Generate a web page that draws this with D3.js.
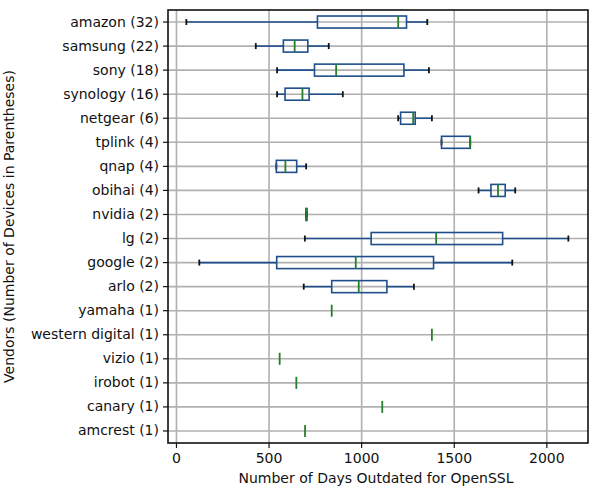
<!DOCTYPE html>
<meta charset="utf-8">
<html>
<head>
  <script src="https://d3js.org/d3.v7.min.js"></script>
  <style>
    body { margin: 0; background: #fff; }
    text { font-family: 'DejaVu Sans', sans-serif; fill: #111; }
    .axis text { font-size: 14px; }
    .axis path { stroke: #111; stroke-width: 1.6; }
    .axis line { stroke: #111; stroke-width: 1.2; }
    .grid line { stroke: #b0b0b0; stroke-width: 1.6; }
    .grid path { stroke: none; }
  </style>
</head>
<body>
  <script>
    // vendors, top to bottom
    var vendors = ['amazon', 'samsung', 'sony', 'synology', 'netgear', 'tplink', 'qnap', 'obihai', 'nvidia',
      'lg', 'google', 'arlo', 'yamaha', 'western digital', 'vizio', 'irobot', 'canary', 'amcrest'];
    var counts = [32, 22, 18, 16, 6, 4, 4, 4, 2, 2, 2, 2, 1, 1, 1, 1, 1, 1];

    // box statistics (days outdated)
    var whisLo = [56, 431, 546, 546, 1200, 1434, 542, 1634, 702, 696, 126, 690, 841, 1382, 560, 650, 1114, 697];
    var q1 = [764, 580, 748, 589, 1213, 1434, 542, 1701, 702, 1054, 544, 841, 841, 1382, 560, 650, 1114, 697];
    var med = [1200, 641, 865, 683, 1281, 1589, 591, 1739, 705, 1405, 971, 987, 841, 1382, 560, 650, 1114, 697];
    var q3 = [1245, 712, 1231, 719, 1292, 1589, 652, 1778, 707, 1764, 1391, 1139, 841, 1382, 560, 650, 1114, 697];
    var whisHi = [1357, 825, 1366, 901, 1382, 1589, 703, 1832, 707, 2119, 1816, 1285, 841, 1382, 560, 650, 1114, 697];

    var xTicks = [0, 500, 1000, 1500, 2000];

    var data = vendors.map((v, i) => ({
      label: v + ' (' + counts[i] + ')',
      lo: whisLo[i], q1: q1[i], med: med[i], q3: q3[i], hi: whisHi[i]
    }));

    var m = { top: 10, right: 12, bottom: 49, left: 168 };
    var W = 600, H = 492;
    var w = W - m.left - m.right,
      h = H - m.top - m.bottom;

    var svg = d3.select('body')
      .append('svg')
      .attr('width', W)
      .attr('height', H);

    var g = svg.append('g')
      .attr('transform', `translate(${m.left}, ${m.top})`);

    var x = d3.scaleLinear()
      .domain([-43, 2225])
      .range([0, w]);

    var y = d3.scaleBand()
      .domain(data.map(d => d.label))
      .range([0, h]);

    var bw = y.bandwidth();

    // grid
    g.append('g')
      .attr('class', 'grid')
      .attr('transform', `translate(0, ${h})`)
      .call(d3.axisBottom(x).tickValues(xTicks).tickSize(-h).tickFormat(''));

    g.append('g')
      .attr('class', 'grid')
      .call(d3.axisLeft(y).tickSize(-w).tickFormat(''));

    // boxes
    var box = g.selectAll('.box')
      .data(data)
      .enter()
      .append('g')
      .attr('class', 'box')
      .attr('transform', d => `translate(0, ${y(d.label) + bw / 2})`);

    var blue = '#1f4e8c';

    box.filter(d => d.hi > d.lo)
      .each(function (d) {
        var b = d3.select(this);
        // whiskers
        b.append('line').attr('x1', x(d.lo)).attr('x2', x(d.q1)).attr('stroke', blue).attr('stroke-width', 1.6);
        b.append('line').attr('x1', x(d.q3)).attr('x2', x(d.hi)).attr('stroke', blue).attr('stroke-width', 1.6);
        // caps
        [d.lo, d.hi].forEach(v => {
          b.append('line')
            .attr('x1', x(v)).attr('x2', x(v))
            .attr('y1', -bw / 8).attr('y2', bw / 8)
            .attr('stroke', '#111').attr('stroke-width', 1.8);
        });
        // box
        b.append('rect')
          .attr('x', x(d.q1))
          .attr('y', -bw / 4)
          .attr('width', Math.max(x(d.q3) - x(d.q1), 0))
          .attr('height', bw / 2)
          .attr('fill', 'none')
          .attr('stroke', blue)
          .attr('stroke-width', 1.6);
      });

    // medians
    box.append('line')
      .attr('x1', d => x(d.med)).attr('x2', d => x(d.med))
      .attr('y1', -bw / 4).attr('y2', bw / 4)
      .attr('stroke', '#23802a')
      .attr('stroke-width', 1.8);

    // frame
    g.append('rect')
      .attr('width', w).attr('height', h)
      .attr('fill', 'none').attr('stroke', '#111').attr('stroke-width', 1.6);

    // axes
    g.append('g')
      .attr('class', 'axis')
      .attr('transform', `translate(0, ${h})`)
      .call(d3.axisBottom(x).tickValues(xTicks).tickFormat(d3.format('d')).tickSize(5).tickPadding(5))
      .call(a => a.select('.domain').remove());

    g.append('g')
      .attr('class', 'axis')
      .call(d3.axisLeft(y).tickSize(5).tickPadding(4))
      .call(a => a.select('.domain').remove());

    // axis labels
    svg.append('text')
      .attr('x', m.left + w / 2 - 2)
      .attr('y', 483)
      .attr('text-anchor', 'middle')
      .style('font-size', '14px')
      .text('Number of Days Outdated for OpenSSL');

    svg.append('text')
      .attr('transform', `translate(14, ${m.top + h / 2}) rotate(-90)`)
      .attr('text-anchor', 'middle')
      .style('font-size', '14px')
      .text('Vendors (Number of Devices in Parentheses)');
  </script>
</body>
</html>
